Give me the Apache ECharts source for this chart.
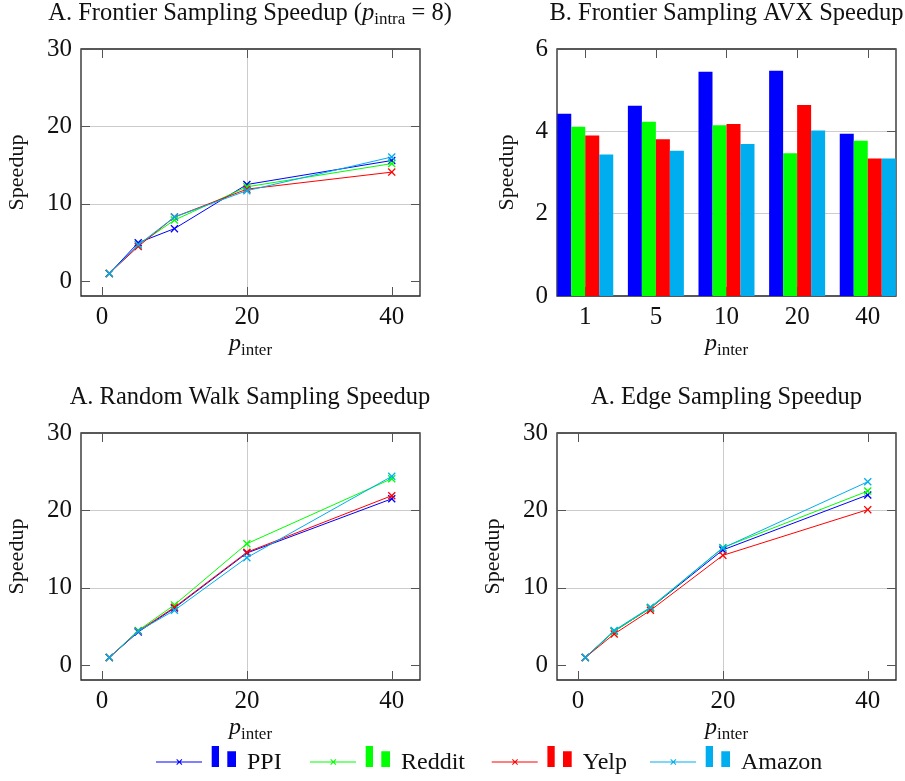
<!DOCTYPE html>
<html>
<head>
<meta charset="utf-8">
<script src="https://cdn.jsdelivr.net/npm/echarts@6/dist/echarts.min.js"></script>
<style>html,body{margin:0;padding:0;background:#fff;}#chart{width:905px;height:781px;}</style>
</head>
<body>
<div id="chart"></div>
<script>
// ---------------- data ----------------
const seriesNames = ['PPI', 'Reddit', 'Yelp', 'Amazon'];
const pInter = [1, 5, 10, 20, 40];

const frontierPPI    = [1.0, 4.98, 6.8, 12.5, 15.6];
const frontierReddit = [1.0, 4.7, 7.9, 12.2, 15.2];
const frontierYelp   = [1.0, 4.5, 8.3, 11.9, 14.1];
const frontierAmazon = [1.0, 4.7, 8.3, 11.7, 16.05];

const avxCategories = ['1', '5', '10', '20', '40'];
const avxPPI    = [4.43, 4.62, 5.45, 5.47, 3.94];
const avxReddit = [4.11, 4.23, 4.15, 3.47, 3.77];
const avxYelp   = [3.90, 3.81, 4.18, 4.64, 3.34];
const avxAmazon = [3.44, 3.53, 3.69, 4.02, 3.34];

const rwPPI    = [1.0, 4.3, 7.4, 14.5, 21.5];
const rwReddit = [1.0, 4.5, 7.8, 15.7, 24.1];
const rwYelp   = [1.0, 4.4, 7.5, 14.6, 21.9];
const rwAmazon = [1.0, 4.4, 7.1, 13.9, 24.4];

const edgePPI    = [1.0, 4.4, 7.4, 14.9, 22.0];
const edgeReddit = [1.0, 4.4, 7.4, 15.2, 22.5];
const edgeYelp   = [1.0, 4.05, 7.1, 14.2, 20.1];
const edgeAmazon = [1.0, 4.5, 7.5, 15.15, 23.7];

const yTicksLine = [0, 10, 20, 30];
const xTicksLine = [0, 20, 40];
const yTicksBar = [0, 2, 4, 6];
const xTicksBar = [0, 1, 2, 3, 4];

// ---------------- style ----------------
const FONT = "'Liberation Serif','DejaVu Serif',serif";
const COLORS = ['#0000ff', '#00ff00', '#ff0000', '#00aeef'];
const TXT = '#111';
const GRIDC = '#cccccc';
const TICKC = '#555555';
const XSYM = 'path://M0,1.2L1.2,0L5,3.8L8.8,0L10,1.2L6.2,5L10,8.8L8.8,10L5,6.2L1.2,10L0,8.8L3.8,5Z';
const LEGEND_ICON = 'path://M0,15.4H46V16.6H0Z' +
  'M20.3,13.7L21,13L23.3,15.3L25.6,13L26.3,13.7L24,16L26.3,18.3L25.6,19L23.3,16.7L21,19L20.3,18.3L22.6,16Z' +
  'M55.7,0H63V21H55.7Z' +
  'M71.3,5.3H80V21H71.3Z' +
  'M0,34L0.01,34L0,33.99Z';

const gridRects = [
  {left: 81, top: 49, width: 339, height: 247},
  {left: 557, top: 49, width: 339, height: 247},
  {left: 81, top: 433, width: 339, height: 247},
  {left: 557, top: 433, width: 339, height: 247}
];
const grids = gridRects.map(g => Object.assign({show: true, borderColor: '#222', borderWidth: 1.3, backgroundColor: 'transparent'}, g));
// overlay grid for the bar panel's top category ticks (one band = one category step of the bar panel)
grids.push({show: false, left: 557 - 0.1 * 339 / 4.8, top: 49, width: 339 * 5 / 4.8, height: 247});

const labelStyle = {fontFamily: FONT, fontSize: 25, color: TXT};
const mkTick = (vals) => ({show: true, inside: true, length: 9, customValues: vals, lineStyle: {color: TICKC, width: 1}});
const noLine = () => ({show: false, onZero: false});
const splitStyle = () => ({show: true, showMinLine: false, showMaxLine: false, lineStyle: {color: GRIDC, width: 1}});
const pInterName = () => ({
  name: '{p|p}{s|inter}',
  nameLocation: 'middle',
  nameGap: 32,
  nameTextStyle: {
    rich: {
      p: {fontFamily: FONT, fontStyle: 'italic', fontSize: 24, lineHeight: 31, color: TXT},
      s: {fontFamily: FONT, fontSize: 17, lineHeight: 18, verticalAlign: 'bottom', color: TXT}
    }
  }
});
const speedupName = (gap) => ({
  name: 'Speedup', nameLocation: 'middle', nameGap: gap,
  nameTextStyle: {fontFamily: FONT, fontSize: 22, color: TXT}
});

const xAxes = [], yAxes = [];
function lineAxes(gi) {
  xAxes.push(Object.assign({
    type: 'value', gridIndex: gi, position: 'bottom', min: -2.9, max: 43.9,
    minInterval: 20, maxInterval: 20,
    axisLine: noLine(), axisTick: mkTick(xTicksLine), splitLine: splitStyle(),
    axisLabel: Object.assign({margin: 9, showMinLabel: false, showMaxLabel: false,
      formatter: v => xTicksLine.includes(v) ? String(v) : ''}, labelStyle)
  }, pInterName()));
  xAxes.push({
    type: 'value', gridIndex: gi, position: 'top', min: -2.9, max: 43.9,
    minInterval: 20, maxInterval: 20,
    axisLine: noLine(), axisTick: mkTick(xTicksLine), splitLine: {show: false}, axisLabel: {show: false}
  });
  yAxes.push(Object.assign({
    type: 'value', gridIndex: gi, position: 'left', min: -1.9, max: 30,
    minInterval: 10, maxInterval: 10,
    axisLine: noLine(), axisTick: mkTick(yTicksLine), splitLine: splitStyle(),
    axisLabel: Object.assign({margin: 9, showMinLabel: false,
      formatter: v => yTicksLine.includes(v) ? String(v) : ''}, labelStyle)
  }, speedupName(53)));
  yAxes.push({
    type: 'value', gridIndex: gi, position: 'right', min: -1.9, max: 30,
    minInterval: 10, maxInterval: 10,
    axisLine: noLine(), axisTick: mkTick(yTicksLine), splitLine: {show: false}, axisLabel: {show: false}
  });
}
function barAxes(gi) {
  xAxes.push(Object.assign({
    type: 'value', gridIndex: gi, position: 'bottom', min: -0.4, max: 4.4,
    minInterval: 1, maxInterval: 1,
    axisLine: noLine(), axisTick: mkTick(xTicksBar), splitLine: {show: false},
    axisLabel: Object.assign({margin: 9, showMinLabel: false, showMaxLabel: false,
      formatter: v => (Number.isInteger(v) && avxCategories[v] !== undefined) ? avxCategories[v] : ''}, labelStyle)
  }, pInterName()));
  xAxes.push({
    type: 'value', gridIndex: gi, position: 'top', min: -0.4, max: 4.4,
    minInterval: 1, maxInterval: 1, z: 10,
    axisLine: noLine(), axisTick: mkTick(xTicksBar), splitLine: {show: false}, axisLabel: {show: false}
  });
  yAxes.push(Object.assign({
    type: 'value', gridIndex: gi, position: 'left', min: 0, max: 6, interval: 2,
    axisLine: noLine(), axisTick: mkTick(yTicksBar), splitLine: splitStyle(),
    axisLabel: Object.assign({margin: 9}, labelStyle)
  }, speedupName(39)));
  yAxes.push({
    type: 'value', gridIndex: gi, position: 'right', min: 0, max: 6, interval: 2,
    axisLine: noLine(), axisTick: mkTick(yTicksBar), splitLine: {show: false}, axisLabel: {show: false}
  });
}
lineAxes(0); barAxes(1); lineAxes(2); lineAxes(3);
// overlay grid 4: top category ticks of the bar panel (category axis, ticks at band centres)
xAxes.push({
  type: 'category', gridIndex: 4, position: 'top', data: avxCategories, boundaryGap: true, z: 10,
  axisLine: noLine(),
  axisTick: {show: true, inside: true, length: 9, alignWithLabel: true, interval: 0, lineStyle: {color: TICKC, width: 1}},
  splitLine: {show: false},
  axisLabel: {show: true, color: 'rgba(0,0,0,0)', interval: 0, inside: true, fontSize: 1}
});
yAxes.push({
  type: 'value', gridIndex: 4, min: 0, max: 6, interval: 2,
  axisLine: noLine(), axisTick: {show: false}, axisLabel: {show: false}, splitLine: {show: false}
});

const series = [];
function addLines(gi, arrays) {
  arrays.forEach((arr, i) => {
    series.push({
      type: 'line', name: seriesNames[i], xAxisIndex: gi * 2, yAxisIndex: gi * 2,
      data: pInter.map((x, k) => [x, arr[k]]),
      symbol: XSYM, symbolSize: 8, showSymbol: true,
      lineStyle: {color: COLORS[i], width: 1},
      itemStyle: {color: COLORS[i], borderWidth: 0},
      emphasis: {disabled: true}, z: 3 + i
    });
  });
}
function addBars(gi, arrays) {
  arrays.forEach((arr, i) => {
    series.push({
      type: 'bar', name: seriesNames[i], xAxisIndex: gi * 2, yAxisIndex: gi * 2,
      data: avxCategories.map((c, k) => [k, arr[k]]),
      barWidth: 14, barGap: '0%',
      itemStyle: {color: COLORS[i], borderWidth: 0},
      emphasis: {disabled: true}
    });
  });
}
addLines(0, [frontierPPI, frontierReddit, frontierYelp, frontierAmazon]);
addBars(1, [avxPPI, avxReddit, avxYelp, avxAmazon]);
addLines(2, [rwPPI, rwReddit, rwYelp, rwAmazon]);
addLines(3, [edgePPI, edgeReddit, edgeYelp, edgeAmazon]);

const TFS = 24.5;
const titleRich = {
  t: {fontFamily: FONT, fontSize: TFS, lineHeight: 28, color: TXT},
  i: {fontFamily: FONT, fontStyle: 'italic', fontSize: TFS, lineHeight: 28, color: TXT},
  s: {fontFamily: FONT, fontSize: 17, lineHeight: 17, verticalAlign: 'bottom', color: TXT}
};
function mkTitle(text, cx, top) {
  return {text, left: cx, top, textAlign: 'center', padding: 0,
    textStyle: {fontFamily: FONT, fontSize: TFS, fontWeight: 'normal', color: TXT, rich: titleRich}};
}
const titles = [
  mkTitle('{t|A. Frontier Sampling Speedup (}{i|p}{s|intra}{t| = 8)}', 250, 0),
  mkTitle('{t|B. Frontier Sampling AVX Speedup}', 726.5, 0),
  mkTitle('{t|A. Random Walk Sampling Speedup}', 250, 384),
  mkTitle('{t|A. Edge Sampling Speedup}', 726.5, 384)
];

const legendLefts = [156, 310, 491.7, 650];
const legends = seriesNames.map((n, i) => ({
  data: [n], left: legendLefts[i], top: 746, padding: 0,
  icon: LEGEND_ICON, itemWidth: 80, itemHeight: 34, selectedMode: false,
  itemStyle: {borderWidth: 0},
  textStyle: {fontFamily: FONT, fontSize: 24, color: TXT, padding: [0, 0, 0, 6]}
}));

const chart = echarts.init(document.getElementById('chart'), null, {renderer: 'canvas'});
chart.setOption({
  animation: false,
  backgroundColor: '#fff',
  title: titles,
  legend: legends,
  grid: grids,
  xAxis: xAxes,
  yAxis: yAxes,
  series: series
});
</script>
</body>
</html>
